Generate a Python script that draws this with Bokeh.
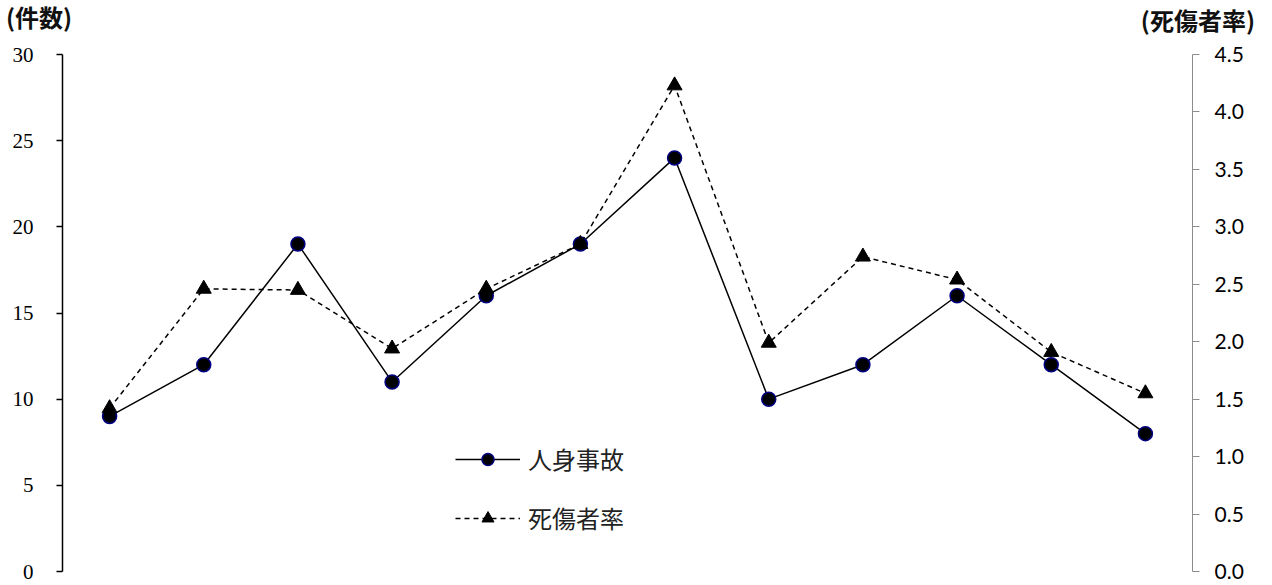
from bokeh.plotting import figure
from bokeh.layouts import column
from bokeh.models import (Range1d, LinearAxis, FixedTicker, NumeralTickFormatter,
                          Legend, LegendItem, Div)
from bokeh.embed import file_html
from bokeh.resources import INLINE

# ---- data ----
periods = list(range(1, 13))
accidents = [9, 12, 19, 11, 16, 19, 24, 10, 12, 16, 12, 8]          # 人身事故 (件数)
casualty_rate = [1.42, 2.46, 2.45, 1.94, 2.46, 2.85, 4.23, 1.99, 2.74, 2.54, 1.91, 1.55]  # 死傷者率
left_ticks = [0, 5, 10, 15, 20, 25, 30]
right_ticks = [0.0, 0.5, 1.0, 1.5, 2.0, 2.5, 3.0, 3.5, 4.0, 4.5]
series_names = ["人身事故", "死傷者率"]
left_title = "(件数)"
right_title = "(死傷者率)"

# ---- header strip carrying the two axis titles ----
title_css = ("position:absolute;font-family:'Noto Sans CJK JP';font-weight:bold;"
             "font-size:24px;line-height:24px;color:#111111;white-space:nowrap;")
hdr = Div(text=(f'<div style="position:relative;width:1272px;height:40px;">'
                f'<span style="{title_css}left:6px;top:5px;">{left_title}</span>'
                f'<span style="{title_css}right:17px;top:8px;">{right_title}</span>'
                f'</div>'),
          width=1272, height=40, margin=0)

# ---- main chart ----
p = figure(width=1272, height=545, frame_width=1130, frame_height=517,
           min_border_left=62, min_border_right=80, min_border_top=14, min_border_bottom=14,
           x_range=Range1d(0.5, 12.5), y_range=Range1d(0, 30),
           output_backend="svg", toolbar_location=None, background_fill_color="white",
           border_fill_color="white", outline_line_color=None)
p.extra_y_ranges = {"rate": Range1d(0, 4.5)}

p.xaxis.visible = False
p.xgrid.visible = False
p.ygrid.visible = False

# left axis
ya = p.yaxis[0]
ya.ticker = FixedTicker(ticks=left_ticks)
ya.axis_line_color = "black"
ya.axis_line_width = 1.5
ya.major_tick_line_color = "black"
ya.major_tick_line_width = 1.5
ya.major_tick_in = 0
ya.major_tick_out = 6
ya.minor_tick_line_color = None
ya.major_label_text_font = "Liberation Serif"
ya.major_label_text_font_size = "21px"
ya.major_label_text_color = "black"
ya.major_label_standoff = 23

# right axis
ra = LinearAxis(y_range_name="rate", ticker=FixedTicker(ticks=right_ticks),
                formatter=NumeralTickFormatter(format="0.0"))
ra.axis_line_color = "#8c8c8c"
ra.axis_line_width = 1
ra.major_tick_line_color = "#8c8c8c"
ra.major_tick_in = 0
ra.major_tick_out = 7
ra.minor_tick_line_color = None
ra.major_label_text_font = "Lato"
ra.major_label_text_font_size = "21px"
ra.major_label_text_color = "black"
ra.major_label_standoff = 15
p.add_layout(ra, "right")

# series
l1 = p.line(periods, accidents, line_color="black", line_width=1.5)
c1 = p.scatter(periods, accidents, marker="circle", size=14, fill_color="black",
               line_color="#000080", line_width=1.5)
l2 = p.line(periods, casualty_rate, y_range_name="rate", line_color="black",
            line_width=1.5, line_dash="5 4")
c2 = p.scatter(periods, casualty_rate, y_range_name="rate", marker="triangle", size=15,
               fill_color="black", line_color="black")

legend = Legend(items=[LegendItem(label=series_names[0], renderers=[l1, c1]),
                       LegendItem(label=series_names[1], renderers=[l2, c2])],
                location=(393, 36), orientation="vertical",
                glyph_width=65, glyph_height=30, label_height=30, spacing=24,
                label_standoff=8, padding=0, margin=0,
                background_fill_alpha=0, border_line_alpha=0,
                label_text_font="Noto Sans CJK JP", label_text_font_size="24px",
                label_text_color="#222222")
p.add_layout(legend, "center")

layout = column(hdr, p, spacing=0)
open("out.html", "w").write(file_html(layout, INLINE))
